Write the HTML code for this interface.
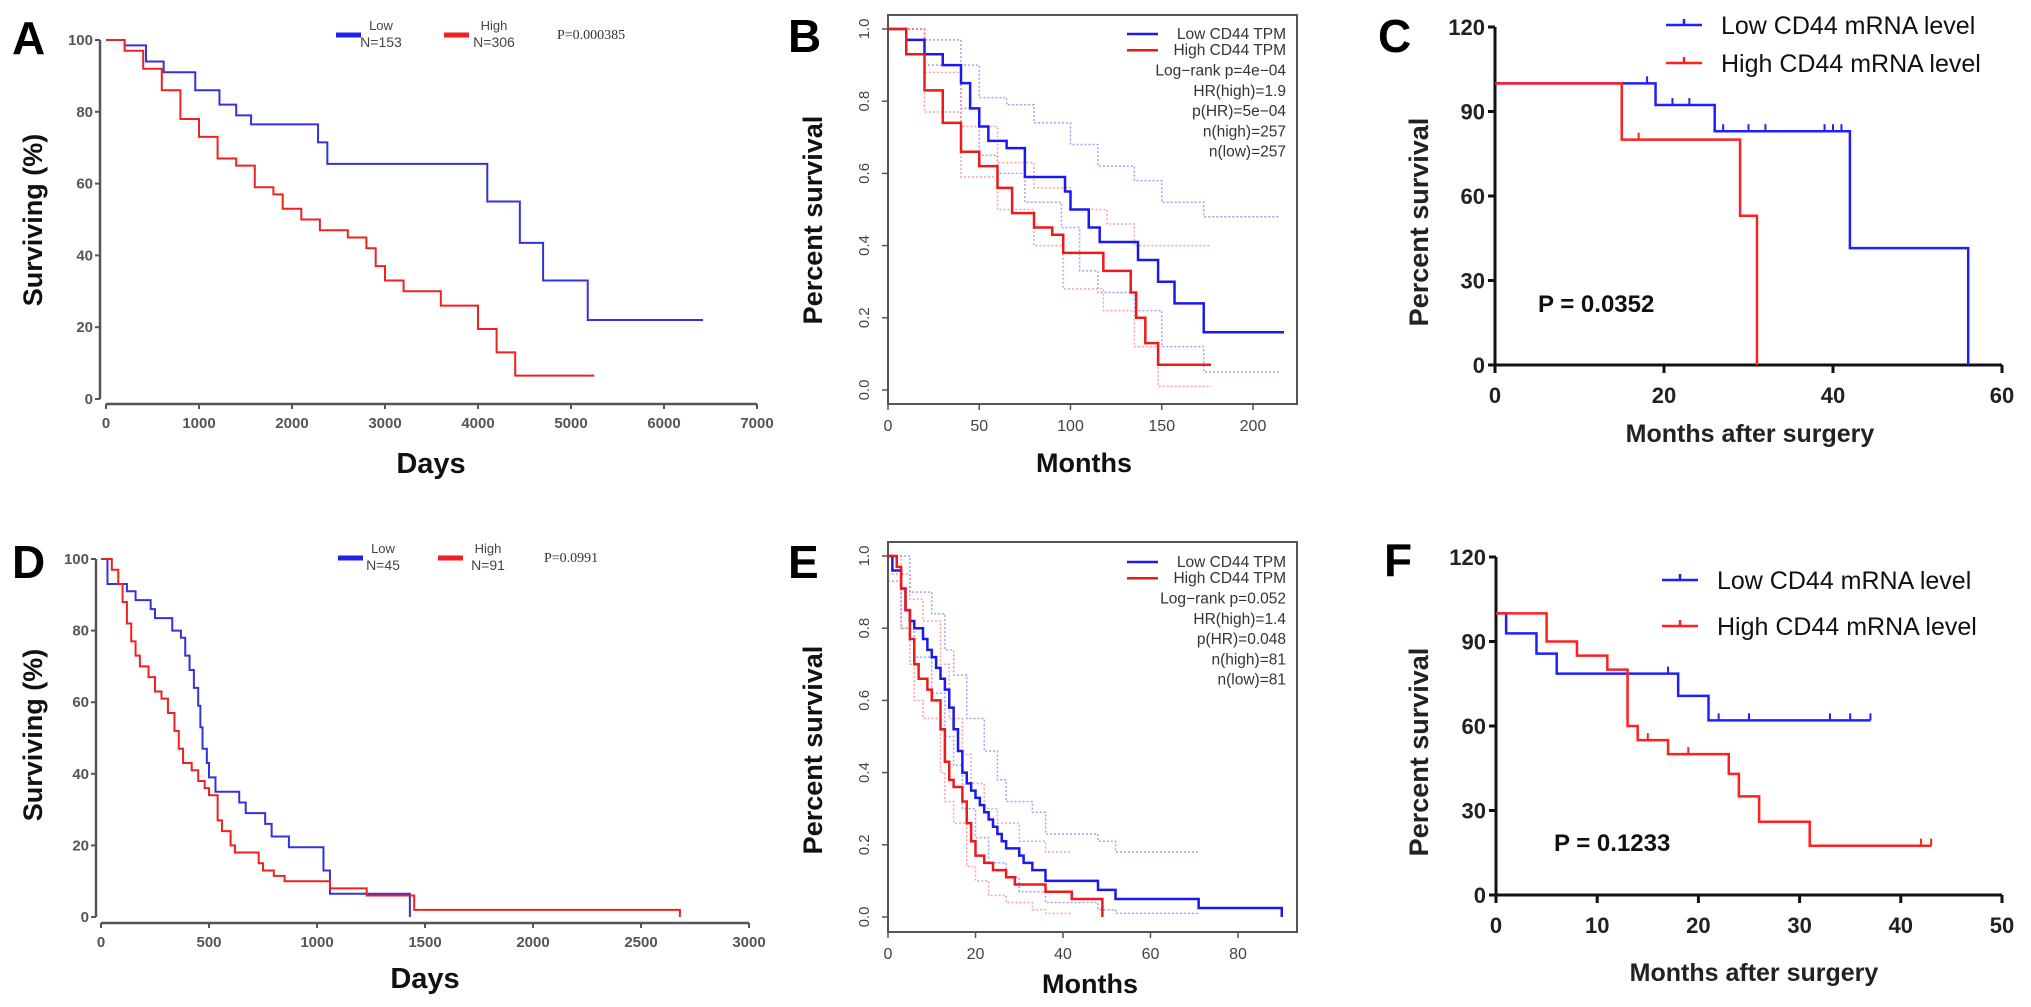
<!DOCTYPE html>
<html><head><meta charset="utf-8"><style>
html,body{margin:0;padding:0;background:#fff;}
svg{display:block;font-family:"Liberation Sans",Arial,sans-serif;}
</style></head><body>
<svg id="fig" width="2031" height="1007" viewBox="0 0 2031 1007" xmlns="http://www.w3.org/2000/svg"></svg>
<script>
// ---- Panel A data (days, % surviving) ----
const aLowT=[0,200,430,620,960,1220,1400,1560,2280,2380,4100,4450,4700,5180];
const aLowV=[100,98.5,94,91,86,82,79,76.5,71.5,65.5,55,43.5,33,22];
const aLowEnd=6420;
const aHighT=[0,200,400,600,800,1000,1200,1400,1600,1800,1900,2100,2300,2600,2800,2900,3000,3200,3600,4000,4200,4400];
const aHighV=[100,97,92,86,78,73,67,65,59,57,53,50,47,45,42,37,33,30,26,19.5,13,6.5];
const aHighEnd=5250;
const aXTicks=[0,1000,2000,3000,4000,5000,6000,7000];
const aYTicks=[0,20,40,60,80,100];
// ---- Panel B data (months, survival) ----
const bLowT=[0,10,20,30,40,45,50,55,65,75,97,100,110,116,137,148,157,173];
const bLowV=[1,0.97,0.93,0.9,0.85,0.78,0.73,0.69,0.67,0.59,0.55,0.5,0.45,0.41,0.36,0.3,0.24,0.16];
const bLowEnd=217;
const bHighT=[0,10,20,30,40,50,60,68,80,90,96,118,133,136,141,148];
const bHighV=[1,0.93,0.83,0.74,0.66,0.62,0.56,0.49,0.45,0.43,0.38,0.33,0.27,0.2,0.13,0.07];
const bHighEnd=177;
const bLowUpT=[0,20,40,50,65,80,100,115,135,150,173];
const bLowUpV=[1,0.97,0.9,0.81,0.79,0.74,0.68,0.62,0.58,0.52,0.48];
const bLowLoT=[0,20,40,50,60,75,95,105,115,135,150,173];
const bLowLoV=[1,0.9,0.78,0.65,0.6,0.52,0.45,0.33,0.27,0.22,0.12,0.05];
const bHighUpT=[0,20,40,60,80,100,120,135];
const bHighUpV=[1,0.88,0.73,0.63,0.56,0.5,0.46,0.4];
const bHighLoT=[0,20,40,60,80,96,118,135,148];
const bHighLoV=[1,0.77,0.59,0.5,0.4,0.28,0.22,0.12,0.01];
const bXTicks=[0,50,100,150,200];
const bYTicks=[0,0.2,0.4,0.6,0.8,1.0];
// ---- Panel C data (months, %) ----
const cLowT=[0,19,26,42,56];
const cLowV=[100,92.3,83,41.5,0];
const cHighT=[0,15,29,31];
const cHighV=[100,80,53,0];
const cLowCensT=[18,21,23,27,30,32,39,40,41];
const cLowCensV=[100,92.3,92.3,83,83,83,83,83,83];
const cHighCensT=[17];
const cHighCensV=[80];
const cXTicks=[0,20,40,60];
const cYTicks=[0,30,60,90,120];
// ---- Panel D data (days, %) ----
const dLowT=[0,30,120,160,230,250,330,370,390,410,430,450,460,470,490,500,530,640,670,760,790,870,1030,1060,1430];
const dLowV=[100,93,91,88.5,86,83.5,80,78,73,69,64,59,53,47,43,39,35,32,29,26,22.5,19.5,13,6.5,0];
const dHighT=[0,50,80,100,120,140,160,180,220,250,280,310,340,360,380,420,450,480,500,540,560,600,620,730,750,800,850,1060,1230,1450,2680];
const dHighV=[100,97,93,88,82,77,73,70,67,63,61,57,52,47,43,41,38,36,34,27,24,20,18,15,13,11.5,10,8,6,2,0];
const dXTicks=[0,500,1000,1500,2000,2500,3000];
const dYTicks=[0,20,40,60,80,100];
// ---- Panel E data (months, survival) ----
const eLowT=[0,1,3,4,5,6,8,9,10,11,12,13,14,15,16,17,18,19,20,21,22,23,24,25,26,27,30,31,33,36,48,52,71,90];
const eLowV=[1,0.96,0.91,0.85,0.82,0.8,0.77,0.74,0.72,0.69,0.66,0.63,0.58,0.52,0.46,0.4,0.37,0.35,0.33,0.31,0.29,0.27,0.25,0.23,0.21,0.19,0.17,0.15,0.13,0.1,0.075,0.05,0.025,0];
const eHighT=[0,2,3,4,5,6,7,9,10,12,13,14,15,17,18,19,20,22,24,27,29,36,42,49];
const eHighV=[1,0.97,0.91,0.85,0.77,0.7,0.66,0.63,0.6,0.52,0.43,0.38,0.36,0.32,0.26,0.21,0.17,0.15,0.13,0.11,0.09,0.07,0.05,0];
const eLowUpT=[0,5,10,13,15,18,22,25,27,33,36,48,52];
const eLowUpV=[1,0.9,0.84,0.74,0.67,0.55,0.46,0.38,0.32,0.29,0.23,0.21,0.18];
const eLowLoT=[0,3,6,10,13,15,17,20,23,27,30,36,48,52];
const eLowLoV=[0.93,0.8,0.72,0.62,0.5,0.42,0.3,0.22,0.15,0.11,0.07,0.04,0.02,0.01];
const eHighUpT=[0,3,5,8,12,14,17,19,22,25,30,36];
const eHighUpV=[1,0.95,0.88,0.82,0.7,0.55,0.45,0.37,0.3,0.26,0.21,0.18];
const eHighLoT=[0,3,5,6,8,12,13,15,18,20,23,27,33,36];
const eHighLoV=[0.95,0.8,0.7,0.6,0.55,0.4,0.32,0.26,0.14,0.1,0.06,0.04,0.02,0.01];
const eXTicks=[0,20,40,60,80];
const eYTicks=[0,0.2,0.4,0.6,0.8,1.0];
// ---- Panel F data (months, %) ----
const fLowT=[0,1,4,6,18,21];
const fLowV=[100,92.9,85.7,78.6,70.7,62];
const fLowEnd=37;
const fHighT=[0,5,8,11,13,14,17,23,24,26,31];
const fHighV=[100,90,85,80,60,55,50,43,35,26,17.5];
const fHighEnd=43;
const fLowCensT=[17,22,25,33,35,37];
const fLowCensV=[78.6,62,62,62,62,62];
const fHighCensT=[15,19,42,43];
const fHighCensV=[55,50,17.5,17.5];
const fXTicks=[0,10,20,30,40,50];
const fYTicks=[0,30,60,90,120];

const NS='http://www.w3.org/2000/svg';
const svg=document.getElementById('fig');
function mk(tag,attrs,parent){const e=document.createElementNS(NS,tag);for(const k in attrs)e.setAttribute(k,attrs[k]);(parent||svg).appendChild(e);return e;}
function txt(s,attrs,parent){const e=mk('text',attrs,parent);e.textContent=s;return e;}
function lin(d0,d1,r0,r1){return v=>r0+(v-d0)/(d1-d0)*(r1-r0);}
function stepD(t,v,end,sx,sy){let d='M'+sx(t[0])+','+sy(v[0]);for(let i=1;i<t.length;i++){d+=' H'+sx(t[i])+' V'+sy(v[i]);}if(end!==undefined)d+=' H'+sx(end);return d;}
function curve(g,name,t,v,end,sx,sy,color,w,dash,op){
  const p=mk('path',{d:stepD(t,v,end,sx,sy),fill:'none',stroke:color,'stroke-width':w},g);
  if(dash)p.setAttribute('stroke-dasharray',dash);
  if(op)p.setAttribute('opacity',op);
  
  
  return p;}
function cens(g,name,t,v,sx,sy,color,up){
  for(let i=0;i<t.length;i++){
    const l=mk('line',{x1:sx(t[i]),x2:sx(t[i]),y1:sy(v[i])-(up?7:5),y2:sy(v[i])+(up?0:5),stroke:color,'stroke-width':2},g);
    
    
  }}
function group(name){const g=mk('g',{});return g;}
function letter(ch,x,y,g){const e=txt(ch,{x:x,y:y,'font-size':46,'font-weight':'bold',fill:'#000'},g);}

// ===== A & D style (grey axes) =====
function panelAD(id,cfg){
  const g=group('panel-'+id);
  const sx=lin(0,cfg.xMax,cfg.x0,cfg.x1), sy=lin(0,100,cfg.y0,cfg.y1);
  const ax=mk('path',{d:`M${cfg.yAxisX},${sy(100)} V${sy(0)}`,stroke:'#555','stroke-width':2.5,fill:'none'},g);
  
  const bx=mk('path',{d:`M${cfg.x0},${cfg.axisY} H${cfg.x1}`,stroke:'#555','stroke-width':2.5,fill:'none'},g);
  
  cfg.yt.forEach(v=>{mk('line',{x1:cfg.yAxisX-5,x2:cfg.yAxisX,y1:sy(v),y2:sy(v),stroke:'#555','stroke-width':2},g);
    const t=txt(String(v),{x:cfg.yAxisX-7,y:sy(v)+5,'font-size':15,'font-weight':'bold',fill:'#555','text-anchor':'end'},g);
    });
  cfg.xt.forEach(v=>{mk('line',{x1:sx(v),x2:sx(v),y1:cfg.axisY,y2:cfg.axisY+5,stroke:'#555','stroke-width':2},g);
    const t=txt(String(v),{x:sx(v),y:cfg.axisY+24,'font-size':15,'font-weight':'bold',fill:'#555','text-anchor':'middle'},g);
    });
  curve(g,'low-curve',cfg.lt,cfg.lv,cfg.lend,sx,sy,'#3333dd',2);
  curve(g,'high-curve',cfg.ht,cfg.hv,cfg.hend,sx,sy,'#ee2222',2);
  const yl=txt('Surviving (%)',{x:0,y:0,'font-size':27,'font-weight':'bold',fill:'#111','text-anchor':'middle',transform:`translate(${cfg.ylx},${cfg.yly}) rotate(-90)`},g);
  
  const xl=txt('Days',{x:cfg.xlx,y:cfg.xly,'font-size':29,'font-weight':'bold',fill:'#111','text-anchor':'middle'},g);
  
  // legend
  const L=cfg.leg;
  const l1=mk('line',{x1:L.bx,x2:L.bx+25,y1:L.y,y2:L.y,stroke:'#2222ee','stroke-width':5},g);
  
  txt('Low',{x:L.bx+45,y:L.y-5,'font-size':13,fill:'#444','text-anchor':'middle'},g);
  txt(L.nl,{x:L.bx+45,y:L.y+12,'font-size':14,fill:'#444','text-anchor':'middle'},g);
  const l2=mk('line',{x1:L.rx,x2:L.rx+25,y1:L.y,y2:L.y,stroke:'#ee2222','stroke-width':5},g);
  
  txt('High',{x:L.rx+50,y:L.y-5,'font-size':13,fill:'#444','text-anchor':'middle'},g);
  txt(L.nh,{x:L.rx+50,y:L.y+12,'font-size':14,fill:'#444','text-anchor':'middle'},g);
  const pv=txt(L.p,{x:L.px,y:L.y+4,'font-size':14,fill:'#333','font-family':'"Liberation Serif",serif'},g);
  
  letter(id,cfg.lx,cfg.ly,g);
}
panelAD('A',{xMax:7000,x0:106,x1:757,y0:399,y1:40,axisY:404,yAxisX:100,xt:aXTicks,yt:aYTicks,
  lt:aLowT,lv:aLowV,lend:aLowEnd,ht:aHighT,hv:aHighV,hend:aHighEnd,ylx:42,yly:220,xlx:431,xly:473,
  leg:{bx:336,rx:444,y:35,nl:'N=153',nh:'N=306',p:'P=0.000385',px:557},lx:12,ly:54});
panelAD('D',{xMax:3000,x0:101,x1:749,y0:917,y1:559,axisY:923,yAxisX:96,xt:dXTicks,yt:dYTicks,
  lt:dLowT,lv:dLowV,ht:dHighT,hv:dHighV,ylx:42,yly:735,xlx:425,xly:988,
  leg:{bx:338,rx:438,y:558,nl:'N=45',nh:'N=91',p:'P=0.0991',px:544},lx:12,ly:578});

// ===== B & E style (boxed R plot) =====
function panelBE(id,cfg){
  const g=group('panel-'+id);
  const sx=lin(0,cfg.xMax,cfg.bx0,cfg.xMaxPx), sy=lin(0,1,cfg.y0,cfg.y1);
  const box=mk('rect',{x:cfg.bx0,y:cfg.by0,width:cfg.bx1-cfg.bx0,height:cfg.by1-cfg.by0,fill:'none',stroke:'#555','stroke-width':2},g);
  
  cfg.yt.forEach(v=>{mk('line',{x1:cfg.bx0-6,x2:cfg.bx0,y1:sy(v),y2:sy(v),stroke:'#555','stroke-width':1.5},g);
    const t=txt(v.toFixed(1),{x:0,y:0,'font-size':15,fill:'#444','text-anchor':'middle',transform:`translate(${cfg.bx0-19},${sy(v)}) rotate(-90)`},g);
    });
  cfg.xt.forEach(v=>{mk('line',{x1:sx(v),x2:sx(v),y1:cfg.by1,y2:cfg.by1+6,stroke:'#555','stroke-width':1.5},g);
    const t=txt(String(v),{x:sx(v),y:cfg.by1+27,'font-size':16,fill:'#444','text-anchor':'middle'},g);
    });
  curve(g,'low-upper-ci',cfg.lut,cfg.luv,cfg.lbend,sx,sy,'#7777ff',1.5,'2,2',0.7);
  curve(g,'low-lower-ci',cfg.llt,cfg.llv,cfg.lbend,sx,sy,'#7777ff',1.5,'2,2',0.7);
  curve(g,'high-upper-ci',cfg.hut,cfg.huv,cfg.hbend,sx,sy,'#ff7777',1.5,'2,2',0.7);
  curve(g,'high-lower-ci',cfg.hlt,cfg.hlv,cfg.hbend,sx,sy,'#ff7777',1.5,'2,2',0.7);
  curve(g,'low-curve',cfg.lt,cfg.lv,cfg.lend,sx,sy,'#1a1aee',2.5);
  curve(g,'high-curve',cfg.ht,cfg.hv,cfg.hend,sx,sy,'#ee1a1a',2.5);
  const yl=txt('Percent survival',{x:0,y:0,'font-size':27,'font-weight':'bold',fill:'#111','text-anchor':'middle',transform:`translate(${cfg.ylx},${cfg.yly}) rotate(-90)`},g);
  
  const xl=txt('Months',{x:cfg.xlx,y:cfg.xly,'font-size':27,'font-weight':'bold',fill:'#111','text-anchor':'middle'},g);
  
  const R=cfg.legR, ly=cfg.legY, dy=cfg.legDy;
  const s1=mk('line',{x1:1127,x2:1158,y1:ly-5,y2:ly-5,stroke:'#1a1aee','stroke-width':2.5},g);
  
  const s2=mk('line',{x1:1127,x2:1158,y1:ly+dy*0.8-5,y2:ly+dy*0.8-5,stroke:'#ee1a1a','stroke-width':2.5},g);
  
  const lines=cfg.legText;
  lines.forEach((s,i)=>{const yy=i<2?ly+i*dy*0.8:ly+dy*0.8+(i-1)*dy;
    const t=txt(s,{x:R,y:yy,'font-size':15.5,fill:'#333','text-anchor':'end'},g);
    });
  letter(id,cfg.lx,cfg.ly,g);
}
panelBE('B',{xMax:200,bx0:888,bx1:1297,xMaxPx:1253,by0:15,by1:404,y0:390,y1:29,xt:bXTicks,yt:bYTicks,
  lt:bLowT,lv:bLowV,lend:bLowEnd,ht:bHighT,hv:bHighV,hend:bHighEnd,
  lut:bLowUpT,luv:bLowUpV,llt:bLowLoT,llv:bLowLoV,lbend:215,hut:bHighUpT,huv:bHighUpV,hlt:bHighLoT,hlv:bHighLoV,hbend:177,
  ylx:822,yly:220,xlx:1084,xly:472,legR:1286,legY:39,legDy:20.3,
  legText:['Low CD44 TPM','High CD44 TPM','Log\u2212rank p=4e\u221204','HR(high)=1.9','p(HR)=5e\u221204','n(high)=257','n(low)=257'],lx:788,ly:52});
panelBE('E',{xMax:80,bx0:888,bx1:1297,xMaxPx:1238,by0:542,by1:932,y0:917,y1:556,xt:eXTicks,yt:eYTicks,
  lt:eLowT,lv:eLowV,ht:eHighT,hv:eHighV,
  lut:eLowUpT,luv:eLowUpV,llt:eLowLoT,llv:eLowLoV,lbend:71,hut:eHighUpT,huv:eHighUpV,hlt:eHighLoT,hlv:eHighLoV,hbend:42,
  ylx:822,yly:750,xlx:1090,xly:993,legR:1286,legY:567,legDy:20.3,
  legText:['Low CD44 TPM','High CD44 TPM','Log\u2212rank p=0.052','HR(high)=1.4','p(HR)=0.048','n(high)=81','n(low)=81'],lx:788,ly:578});

// ===== C & F style (Prism) =====
function panelCF(id,cfg){
  const g=group('panel-'+id);
  const sx=lin(0,cfg.xMax,cfg.x0,cfg.x1), sy=lin(0,120,cfg.y0,cfg.y1);
  const ax=mk('path',{d:`M${cfg.x0},${cfg.y1} V${cfg.y0} H${cfg.x1}`,stroke:'#111','stroke-width':3,fill:'none'},g);
  
  cfg.yt.forEach(v=>{mk('line',{x1:cfg.x0-7,x2:cfg.x0,y1:sy(v),y2:sy(v),stroke:'#111','stroke-width':3},g);
    const t=txt(String(v),{x:cfg.x0-10,y:sy(v)+8,'font-size':22,'font-weight':'bold',fill:'#222','text-anchor':'end'},g);
    });
  cfg.xt.forEach(v=>{mk('line',{x1:sx(v),x2:sx(v),y1:cfg.y0,y2:cfg.y0+8,stroke:'#111','stroke-width':3},g);
    const t=txt(String(v),{x:sx(v),y:cfg.y0+38,'font-size':22,'font-weight':'bold',fill:'#222','text-anchor':'middle'},g);
    });
  curve(g,'low-curve',cfg.lt,cfg.lv,cfg.lend,sx,sy,'#2020ff',2.5);
  curve(g,'high-curve',cfg.ht,cfg.hv,cfg.hend,sx,sy,'#ff2020',2.5);
  cens(g,'low-censor-tick',cfg.lct,cfg.lcv,sx,sy,'#2020ff',true);
  cens(g,'high-censor-tick',cfg.hct,cfg.hcv,sx,sy,'#ff2020',true);
  const yl=txt('Percent survival',{x:0,y:0,'font-size':27,'font-weight':'bold',fill:'#222','text-anchor':'middle',transform:`translate(${cfg.ylx},${cfg.yly}) rotate(-90)`},g);
  
  const xl=txt('Months after surgery',{x:cfg.xlx,y:cfg.xly,'font-size':25,'font-weight':'bold',fill:'#222','text-anchor':'middle'},g);
  
  [[cfg.legY1,'#2020ff','Low CD44 mRNA level','legend-low'],[cfg.legY2,'#ff2020','High CD44 mRNA level','legend-high']].forEach(r=>{
    const sw=mk('path',{d:`M${cfg.legX},${r[0]} H${cfg.legX+36} M${cfg.legX+18},${r[0]} V${r[0]-6}`,stroke:r[1],'stroke-width':2.5,fill:'none'},g);
    
    const t=txt(r[2],{x:cfg.legX+55,y:r[0]+9,'font-size':25,fill:'#111'},g);
    });
  const p=txt(cfg.p,{x:cfg.px,y:cfg.py,'font-size':24,'font-weight':'bold',fill:'#111'},g);
  
  letter(id,cfg.lx,cfg.ly,g);
}
panelCF('C',{xMax:60,x0:1495,x1:2002,y0:365,y1:27,xt:cXTicks,yt:cYTicks,
  lt:cLowT,lv:cLowV,ht:cHighT,hv:cHighV,lct:cLowCensT,lcv:cLowCensV,hct:cHighCensT,hcv:cHighCensV,
  ylx:1428,yly:222,xlx:1750,xly:442,legX:1666,legY1:25,legY2:63,p:'P = 0.0352',px:1538,py:312,lx:1378,ly:52});
panelCF('F',{xMax:50,x0:1496,x1:2002,y0:895,y1:557,xt:fXTicks,yt:fYTicks,
  lt:fLowT,lv:fLowV,lend:fLowEnd,ht:fHighT,hv:fHighV,hend:fHighEnd,lct:fLowCensT,lcv:fLowCensV,hct:fHighCensT,hcv:fHighCensV,
  ylx:1428,yly:752,xlx:1754,xly:981,legX:1662,legY1:580,legY2:626,p:'P = 0.1233',px:1554,py:851,lx:1384,ly:576});
</script>
</body></html>
